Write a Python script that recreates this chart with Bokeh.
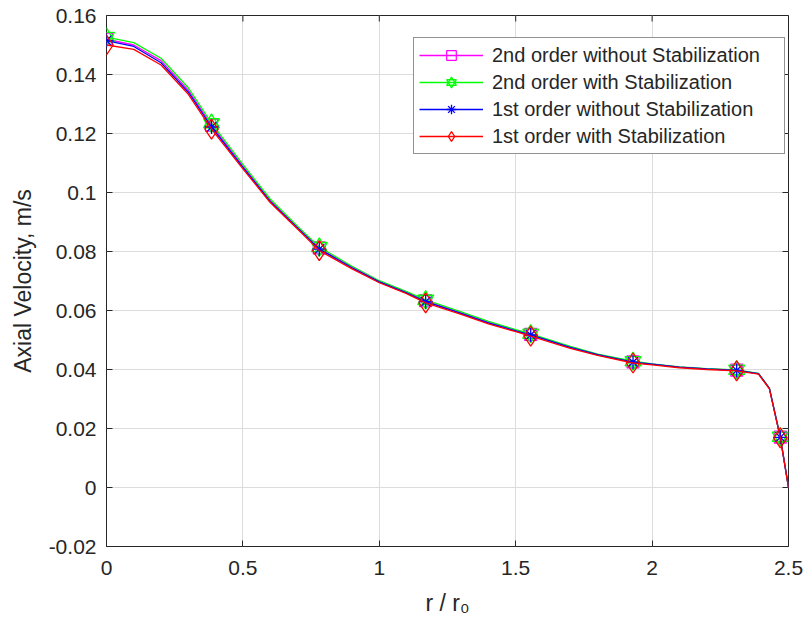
from bokeh.plotting import figure
from bokeh.models import Range1d, FixedTicker, Legend, LegendItem
from bokeh.embed import file_html
from bokeh.resources import INLINE

# ---- data ----
r = [0.0, 0.1, 0.2, 0.3, 0.385, 0.5, 0.6, 0.7, 0.78, 0.9, 1.0, 1.1, 1.17, 1.3,
     1.4, 1.5, 1.555, 1.7, 1.8, 1.93, 2.0, 2.1, 2.2, 2.31, 2.39, 2.43, 2.47, 2.5]

v_2nd_nostab = [0.1520, 0.1500, 0.1447, 0.1347, 0.1228, 0.1090, 0.0974, 0.0883,
                0.0812, 0.0747, 0.0699, 0.0662, 0.0633, 0.0592, 0.0560, 0.0533,
                0.0519, 0.0476, 0.0451, 0.0426, 0.0418, 0.0408, 0.0402, 0.0398,
                0.0386, 0.0336, 0.0171, 0.0]
v_2nd_stab = [0.1527, 0.1508, 0.1455, 0.1355, 0.1235, 0.1095, 0.0978, 0.0886,
              0.0815, 0.0750, 0.0701, 0.0664, 0.0636, 0.0595, 0.0563, 0.0535,
              0.0521, 0.0478, 0.0452, 0.0428, 0.0419, 0.0409, 0.0403, 0.0399,
              0.0387, 0.0337, 0.0172, 0.0]
v_1st_nostab = [0.1515, 0.1495, 0.1440, 0.1340, 0.1222, 0.1085, 0.0970, 0.0880,
                0.0808, 0.0745, 0.0697, 0.0660, 0.0630, 0.0590, 0.0558, 0.0531,
                0.0517, 0.0475, 0.0450, 0.0425, 0.0418, 0.0408, 0.0402, 0.0397,
                0.0386, 0.0336, 0.0170, 0.0]
v_1st_stab = [0.1500, 0.1485, 0.1432, 0.1333, 0.1215, 0.1080, 0.0966, 0.0876,
              0.0803, 0.0741, 0.0694, 0.0657, 0.0626, 0.0587, 0.0555, 0.0528,
              0.0513, 0.0472, 0.0448, 0.0422, 0.0416, 0.0406, 0.0400, 0.0395,
              0.0384, 0.0334, 0.0168, 0.0]

marker_idx = [0, 4, 8, 12, 16, 19, 23, 26]

series_names = ["2nd order without Stabilization", "2nd order with Stabilization",
                "1st order without Stabilization", "1st order with Stabilization"]

x_ticks = [0, 0.5, 1, 1.5, 2, 2.5]
x_tick_labels = ["0", "0.5", "1", "1.5", "2", "2.5"]
y_ticks = [-0.02, 0, 0.02, 0.04, 0.06, 0.08, 0.1, 0.12, 0.14, 0.16]
y_tick_labels = ["-0.02", "0", "0.02", "0.04", "0.06", "0.08", "0.1", "0.12", "0.14", "0.16"]

X0, X1 = 0.0, 2.5
Y0, Y1 = -0.02, 0.16
FW, FH = 682, 531
FONT = "Liberation Sans"
AX = "#262626"
TICK = 6  # px

p = figure(frame_width=FW, frame_height=FH, output_backend="svg",
           toolbar_location=None, min_border_left=106, min_border_top=15,
           min_border_right=20, min_border_bottom=84,
           x_range=Range1d(X0, X1), y_range=Range1d(Y0, Y1))
p.background_fill_color = "white"
p.border_fill_color = "white"
p.outline_line_color = AX
p.outline_line_width = 1

for ax, ticks, labels in ((p.xaxis[0], x_ticks, x_tick_labels), (p.yaxis[0], y_ticks, y_tick_labels)):
    ax.ticker = FixedTicker(ticks=ticks)
    ax.major_label_overrides = {t: l for t, l in zip(ticks, labels)}
    ax.major_tick_in = TICK
    ax.major_tick_out = 0
    ax.minor_tick_in = 0
    ax.minor_tick_out = 0
    ax.major_tick_line_color = AX
    ax.axis_line_color = None
    ax.major_label_text_font = FONT
    ax.major_label_text_font_size = "21px"
    ax.major_label_text_color = AX
    ax.axis_label_text_font = FONT
    ax.axis_label_text_font_size = "23px"
    ax.axis_label_text_font_style = "normal"
    ax.axis_label_text_color = AX

p.xaxis[0].major_label_standoff = 14
p.yaxis[0].major_label_standoff = 10
p.xaxis[0].axis_label = "r / r\u2080"
p.xaxis[0].axis_label_standoff = 12
p.yaxis[0].axis_label = "Axial Velocity, m/s"
p.yaxis[0].axis_label_standoff = 10

# mirrored ticks on top and right edges (box on)
dx = TICK * (X1 - X0) / FW
dy = TICK * (Y1 - Y0) / FH
p.segment(x0=x_ticks, y0=[Y1] * len(x_ticks), x1=x_ticks, y1=[Y1 - dy] * len(x_ticks),
          line_color=AX, line_width=1)
p.segment(x0=[X1] * len(y_ticks), y0=y_ticks, x1=[X1 - dx] * len(y_ticks), y1=y_ticks,
          line_color=AX, line_width=1)

p.xgrid.ticker = FixedTicker(ticks=x_ticks)
p.ygrid.ticker = FixedTicker(ticks=y_ticks)
p.grid.grid_line_color = "#dcdcdc"
p.grid.grid_line_width = 1

LW = 1.3
items = []

def mx(vals):
    return [r[i] for i in marker_idx], [vals[i] for i in marker_idx]

# 2nd order without stabilization: magenta squares
c = "#ff00ff"
l1 = p.line(r, v_2nd_nostab, line_color=c, line_width=LW)
xm, ym = mx(v_2nd_nostab)
m1 = p.scatter(xm, ym, marker="square", size=12, line_color=c, fill_color=None, line_width=1.2)
items.append(LegendItem(label=series_names[0], renderers=[l1, m1]))

# 2nd order with stabilization: green hexagram
c = "#00ff00"
l2 = p.line(r, v_2nd_stab, line_color=c, line_width=LW)
xm, ym = mx(v_2nd_stab)
m2a = p.scatter(xm, ym, marker="triangle", size=16, line_color=c, fill_color=None, line_width=1.3)
m2b = p.scatter(xm, ym, marker="inverted_triangle", size=16, line_color=c, fill_color=None, line_width=1.3)
items.append(LegendItem(label=series_names[1], renderers=[l2, m2a, m2b]))

# 1st order without stabilization: blue asterisk
c = "#0000ff"
l3 = p.line(r, v_1st_nostab, line_color=c, line_width=LW)
xm, ym = mx(v_1st_nostab)
m3 = p.scatter(xm, ym, marker="asterisk", size=14, line_color=c, line_width=1.3)
items.append(LegendItem(label=series_names[2], renderers=[l3, m3]))

# 1st order with stabilization: red diamond
c = "#ff0000"
l4 = p.line(r, v_1st_stab, line_color=c, line_width=LW)
xm, ym = mx(v_1st_stab)
m4 = p.scatter(xm, ym, marker="diamond", size=20, line_color=c, fill_color=None, line_width=1.3)
items.append(LegendItem(label=series_names[3], renderers=[l4, m4]))

legend = Legend(items=items, location=(307, 392), orientation="vertical",
                label_text_font=FONT, label_text_font_size="20px", label_text_color=AX,
                glyph_width=64, glyph_height=24, label_height=24, label_width=287,
                label_standoff=9, spacing=3, padding=5, margin=0,
                border_line_color=AX, border_line_width=1,
                background_fill_color="white", background_fill_alpha=1.0)
p.add_layout(legend, "center")

open("out.html", "w").write(file_html(p, INLINE))
